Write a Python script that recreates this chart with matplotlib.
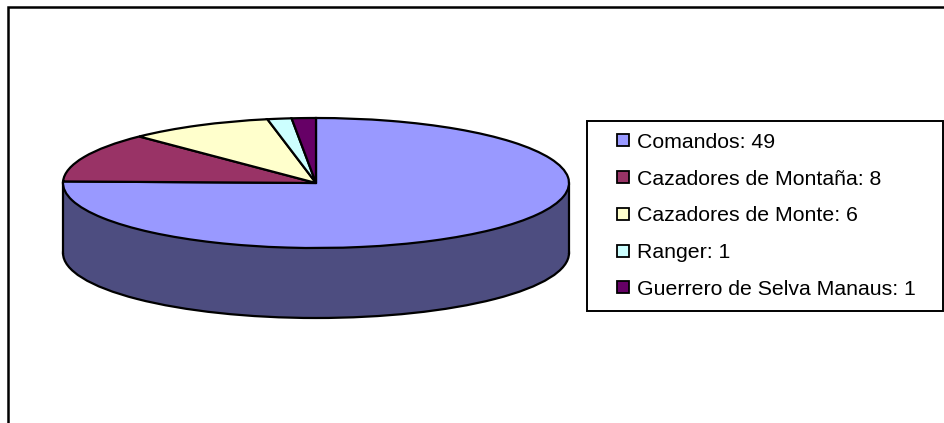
import matplotlib
matplotlib.use('Agg')
import matplotlib.pyplot as plt
from matplotlib.patches import Ellipse, Rectangle

plt.rcParams['font.family'] = ['Liberation Sans', 'DejaVu Sans']

labels = ['Comandos', 'Cazadores de Montaña', 'Cazadores de Monte', 'Ranger',
          'Guerrero de Selva Manaus']
values = [49, 8, 6, 1, 1]
top_colors = ['#9999FF', '#993366', '#FFFFCC', '#CCFFFF', '#660066']
wall_color = '#4D4D80'

W, H = 944, 423
cx, cy = 316, 183      # pie centre, pixels
rx, ry = 253, 65       # ellipse radii
depth = 70             # thickness of the disc

fig = plt.figure(figsize=(W / 100, H / 100), dpi=100, facecolor='white')
ax = fig.add_axes([0, 0, 1, 1])

edge = dict(edgecolor='black', linewidth=1.6)

# wall of the disc: lower ellipse plus a rectangle, then the top face
d = depth / ry
ax.add_patch(Ellipse((0, -d), 2, 2, facecolor=wall_color, zorder=1, **edge))
ax.add_patch(Rectangle((-1, -d), 2, d, facecolor=wall_color, edgecolor='none', zorder=1.5))
ax.plot([-1, -1], [0, -d], color='black', lw=1.6, zorder=1.6)
ax.plot([1, 1], [0, -d], color='black', lw=1.6, zorder=1.6)
wedges, _ = ax.pie(values, colors=top_colors, startangle=90, counterclock=False,
                   wedgeprops=edge)
for w in wedges:
    w.set_zorder(2)

# squash the circle into the ellipse
ax.set_aspect('auto')
ax.set_xlim(-cx / rx, (W - cx) / rx)
ax.set_ylim((cy - H) / ry, cy / ry)
ax.axis('off')

# overlay in pixel coordinates for the frame and the legend
over = fig.add_axes([0, 0, 1, 1], facecolor='none')
over.set_xlim(0, W)
over.set_ylim(H, 0)
over.axis('off')

# chart frame, cut by the image on the right and bottom
over.plot([8, 8, W], [H, 7, 7], color='black', lw=1.8, solid_joinstyle='miter')

# legend box
over.add_patch(Rectangle((586.5, 121), 356, 190, facecolor='white', edgecolor='black', lw=1.4))
for i, (lab, val, col) in enumerate(zip(labels, values, top_colors)):
    y = 140.5 + 36.7 * i
    over.add_patch(Rectangle((616.5, y - 6), 12, 12, facecolor=col, edgecolor='black', lw=1.3))
    over.text(637, y, f'{lab}: {val}', fontsize=15.35, color='black', ha='left', va='center_baseline')

fig.savefig('out.png', dpi=100, facecolor='white')
